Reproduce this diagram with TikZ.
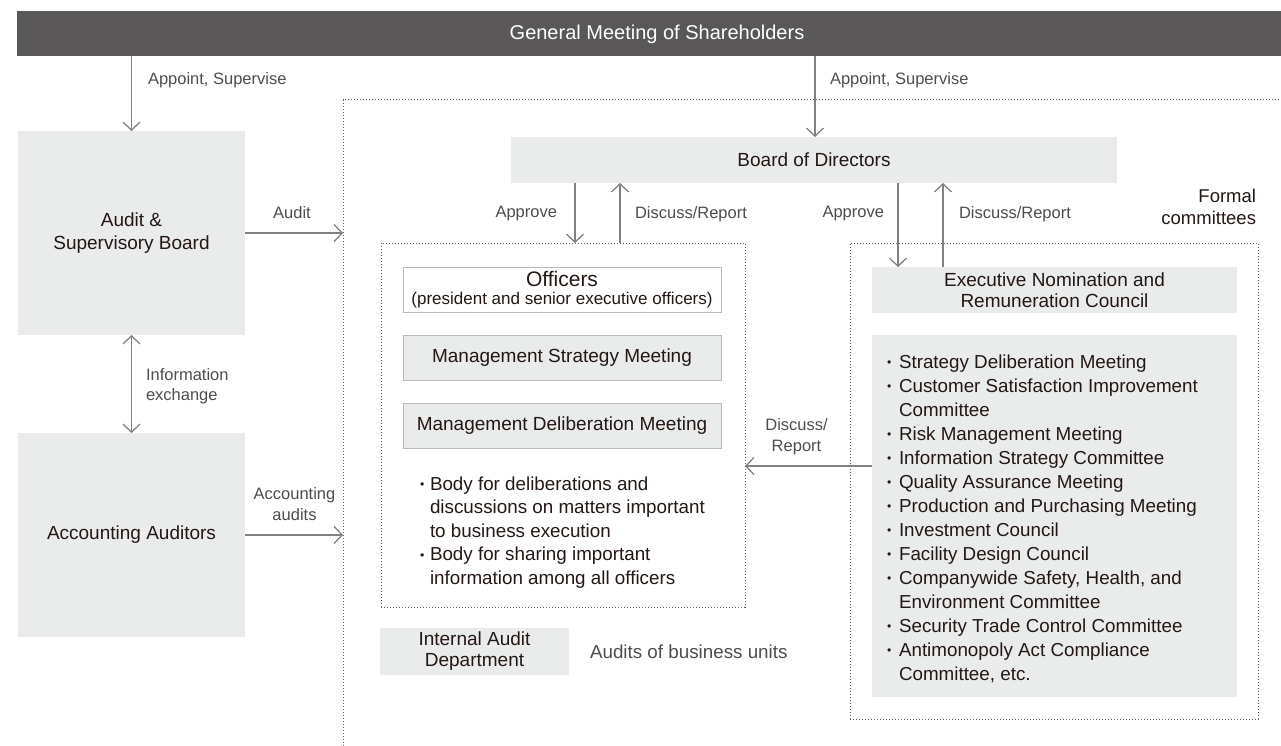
\documentclass[tikz,border=0pt]{standalone}
\usepackage{fontspec}
\setmainfont{Liberation Sans}
\usepackage{graphicx}
\usetikzlibrary{arrows.meta}
\definecolor{barc}{HTML}{595757}
\definecolor{boxfill}{HTML}{EAEBEB}
\definecolor{boxline}{HTML}{B8B8B8}
\definecolor{arrowc}{HTML}{808080}
\definecolor{dotc}{HTML}{606060}
\definecolor{txt}{HTML}{231815}
\definecolor{lbl}{HTML}{4D4D4D}
\newcommand\fsz[2]{\fontsize{#1}{#2}\selectfont}
\newcommand\bul[1]{\makebox[#1][l]{\raisebox{0.06em}{\scalebox{0.65}{\textbullet}}}}
\begin{document}
\begin{tikzpicture}[x=1pt,y=-1pt,
  every node/.style={inner sep=0pt, outer sep=0pt, text=txt},
  gbox/.style={fill=boxfill, font=\fsz{19}{21}, align=center},
  mbox/.style={fill=boxfill, draw=boxline, line width=1pt, font=\fsz{19}{21}, align=center},
  dotbox/.style={draw=dotc, line width=1pt, dash pattern=on 1.4pt off 1.6pt},
  lab/.style={text=lbl, font=\fsz{16.5}{20.5}},
  arr/.style={draw=arrowc, line width=1.3pt, -{Straight Barb[length=8pt,width=17pt]}},
  darr/.style={draw=arrowc, line width=1.3pt, {Straight Barb[length=8pt,width=17pt]}-{Straight Barb[length=8pt,width=17pt]}},
]
\useasboundingbox (0,0) rectangle (1281,746);

% top bar
\node[fill=barc, minimum width=1264pt, minimum height=45pt] (gms) at (649,33.5) {};
\node[text=white, font=\fsz{20}{22}] (gmstitle) at (657,34) {General Meeting of Shareholders};

% big dotted frame
\coordinate (bigL) at (343,100);
\draw[dotbox] (343,746) -- (bigL) -- (1281,100);

% left column
\node[gbox, minimum width=227pt, minimum height=204pt] (asb) at (131.5,233) {Audit \&\\[2pt]Supervisory Board};
\node[gbox, minimum width=227pt, minimum height=204pt] (aa) at (131.5,535) {Accounting Auditors};

% board of directors
\node[gbox, minimum width=606pt, minimum height=46pt] (bod) at (814,160) {Board of Directors};

% officers frame
\node[dotbox, minimum width=364pt, minimum height=364pt] (offbox) at (563,425) {};
\node[fill=white, draw=boxline, line width=1pt, minimum width=318pt, minimum height=45pt, align=center] (off) at (562,289.5)
  {{\fsz{21}{19}Officers}\\[5pt]{\fsz{17}{19}(president and senior executive officers)}};
\node[mbox, minimum width=318pt, minimum height=45pt] (msm) at (562,357.5) {Management Strategy Meeting};
\node[mbox, minimum width=318pt, minimum height=45pt] (mdm) at (562,425.5) {Management Deliberation Meeting};
\node[anchor=base west, align=left, font=\fsz{18.8}{23.5}] (offlist) at (420,584)
  {\bul{10pt}Body for deliberations and\\
   \hspace*{10pt}discussions on matters important\\
   \hspace*{10pt}to business execution\\
   \bul{10pt}Body for sharing important\\
   \hspace*{10pt}information among all officers};

% internal audit
\node[gbox, minimum width=189pt, minimum height=47pt] (iad) at (474.5,651) {Internal Audit\\Department};
\node[lab, font=\fsz{18.8}{22}, anchor=west] (iadlab) at (590,652) {Audits of business units};

% formal committees
\node[dotbox, minimum width=408pt, minimum height=476pt] (fc) at (1054,481) {};
\node[anchor=east, align=right, font=\fsz{18.5}{22}] (fclab) at (1256,207) {Formal\\committees};
\node[gbox, minimum width=365pt, minimum height=46pt] (enrc) at (1054.5,290) {Executive Nomination and\\Remuneration Council};
\node[fill=boxfill, minimum width=365pt, minimum height=362pt] (list) at (1054.5,516) {};
\node[anchor=base west, align=left, font=\fsz{18.8}{24}] (listtext) at (887,680)
  {\bul{12pt}Strategy Deliberation Meeting\\
   \bul{12pt}Customer Satisfaction Improvement\\
   \hspace*{12pt}Committee\\
   \bul{12pt}Risk Management Meeting\\
   \bul{12pt}Information Strategy Committee\\
   \bul{12pt}Quality Assurance Meeting\\
   \bul{12pt}Production and Purchasing Meeting\\
   \bul{12pt}Investment Council\\
   \bul{12pt}Facility Design Council\\
   \bul{12pt}Companywide Safety, Health, and\\
   \hspace*{12pt}Environment Committee\\
   \bul{12pt}Security Trade Control Committee\\
   \bul{12pt}Antimonopoly Act Compliance\\
   \hspace*{12pt}Committee, etc.};

% connectors
\draw[arr] (asb.north |- gms.south) -- (asb.north);
\node[lab, anchor=west] (l1) at (148,80) {Appoint, Supervise};
\draw[arr] (gms.south -| 815,0) -- (bod.north -| 815,0);
\node[lab, anchor=west] (l2) at (830,80) {Appoint, Supervise};
\draw[arr] (asb.east) -- (asb.east -| bigL);
\node[lab] (l3) at (292,213) {Audit};
\draw[arr] (aa.east) -- (aa.east -| bigL);
\node[lab, align=center] (l4) at (294.5,504) {Accounting\\audits};
\draw[darr] (asb.south) -- (aa.north);
\node[lab, anchor=west, align=left] (l5) at (146,386) {Information\\exchange};

\draw[arr] (bod.south -| 575,0) -- (offbox.north -| 575,0);
\node[lab, anchor=east] (l6) at (557,214) {Approve};
\draw[arr] (offbox.north -| 620,0) -- (bod.south -| 620,0);
\node[lab, anchor=west] (l7) at (635,214) {Discuss/Report};
\draw[arr] (bod.south -| 898,0) -- (enrc.north -| 898,0);
\node[lab, anchor=east] (l8) at (884,214) {Approve};
\draw[arr] (enrc.north -| 943,0) -- (bod.south -| 943,0);
\node[lab, anchor=west] (l9) at (959,214) {Discuss/Report};
\draw[arr] (list.west |- 0,466) -- (offbox.east |- 0,466);
\node[lab, align=center] (l10) at (796.5,436.5) {Discuss/\\Report};
\end{tikzpicture}
\end{document}
